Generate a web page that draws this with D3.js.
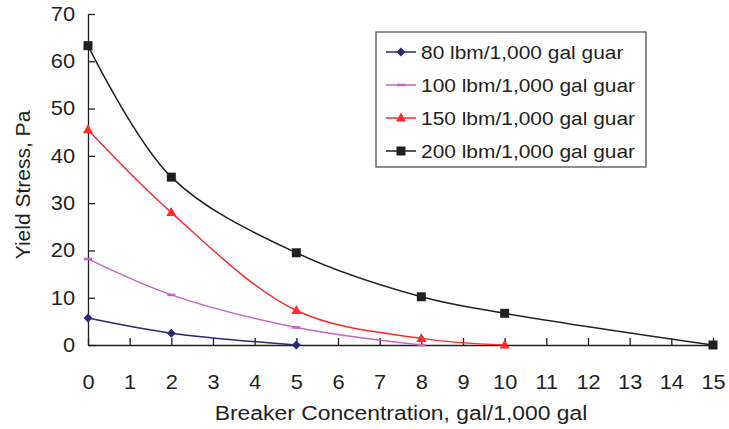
<!DOCTYPE html>
<html><head><meta charset="utf-8">
<script src="https://cdn.jsdelivr.net/npm/d3@7"></script>
<style>body{margin:0;background:#fff}text{font-family:"Liberation Sans",Arial,sans-serif;fill:#231f20}</style>
</head><body><svg id="c" width="729" height="429"></svg>
<script>
const seriesNames = ["80 lbm/1,000 gal guar","100 lbm/1,000 gal guar","150 lbm/1,000 gal guar","200 lbm/1,000 gal guar"];
const x80 = [0,2,5],            y80 = [5.7,2.5,0];
const x100 = [0,2,5,8],         y100 = [18.2,10.6,3.7,0];
const x150 = [0,2,5,8,10],      y150 = [45.5,28,7.3,1.4,0];
const x200 = [0,2,5,8,10,15],   y200 = [63.3,35.5,19.5,10.2,6.7,0];
const xTicks = d3.range(0,16);
const yTicks = [0,10,20,30,40,50,60,70];
const colors = ["#2a2878","#c564c5","#ff2a2a","#231f20"];
const markers = ["diamond","dash","triangle","square"];
const SX = 1.09; // horizontal stretch of glyphs in the reference

const svg = d3.select("#c");
const x = d3.scaleLinear().domain([0,15]).range([88,713]);
const y = d3.scaleLinear().domain([0,70]).range([345,14]);

const ax = svg.append("g").attr("transform","translate(0,345)")
  .call(d3.axisBottom(x).tickValues(xTicks).tickSizeInner(-7).tickSizeOuter(0).tickPadding(30));
const ay = svg.append("g").attr("transform","translate(88,0)")
  .call(d3.axisLeft(y).tickValues(yTicks).tickSizeInner(-7).tickSizeOuter(0).tickPadding(13));
[ax,ay].forEach(g=>{
  g.selectAll("path,line").attr("stroke","#231f20").attr("stroke-width",1.3);
  g.selectAll("text").attr("font-size",20).attr("fill","#231f20").style("font-family","Liberation Sans, Arial, sans-serif")
    .attr("transform",`scale(${SX},1)`);
});
ay.selectAll("text").attr("x",-13/SX);

svg.append("text").attr("transform",`translate(401,420) scale(${SX},1)`).attr("text-anchor","middle").attr("font-size",21).text("Breaker Concentration, gal/1,000 gal");
svg.append("text").attr("transform","translate(30,185) rotate(-90)").attr("text-anchor","middle").attr("font-size",21).text("Yield Stress, Pa");

const data = [[x80,y80],[x100,y100],[x150,y150],[x200,y200]];
const line = d3.line().x(d=>x(d[0])).y(d=>y(d[1])).curve(d3.curveCatmullRom.alpha(0.5));

function marker(g, type, cx, cy, col){
  if(type==="diamond") g.append("path").attr("d",`M${cx},${cy-4.5}L${cx+4.5},${cy}L${cx},${cy+4.5}L${cx-4.5},${cy}Z`).attr("fill",col);
  else if(type==="dash") g.append("rect").attr("x",cx-4).attr("y",cy-1.3).attr("width",8).attr("height",2.6).attr("fill",col);
  else if(type==="triangle") g.append("path").attr("d",`M${cx},${cy-5.5}L${cx+5},${cy+3.5}L${cx-5},${cy+3.5}Z`).attr("fill",col);
  else g.append("rect").attr("x",cx-4.5).attr("y",cy-4.5).attr("width",9).attr("height",9).attr("fill",col);
}

data.forEach((s,i)=>{
  const pts = s[0].map((v,j)=>[v,s[1][j]]);
  svg.append("path").attr("d",line(pts)).attr("fill","none").attr("stroke",colors[i]).attr("stroke-width",1.5);
  const g = svg.append("g");
  pts.forEach(p=>marker(g,markers[i],x(p[0]),y(p[1]),colors[i]));
});

// legend
svg.append("rect").attr("x",376).attr("y",32).attr("width",270).attr("height",135).attr("fill","#fff").attr("stroke","#444").attr("stroke-width",1.2);
seriesNames.forEach((n,i)=>{
  const ly = 52 + i*33;
  svg.append("line").attr("x1",386).attr("x2",416).attr("y1",ly).attr("y2",ly).attr("stroke",colors[i]).attr("stroke-width",1.5);
  marker(svg,markers[i],401,ly,colors[i]);
  svg.append("text").attr("transform",`translate(421,${ly+6.5}) scale(${SX},1)`).attr("font-size",19.2).text(n);
});
</script></body></html>
